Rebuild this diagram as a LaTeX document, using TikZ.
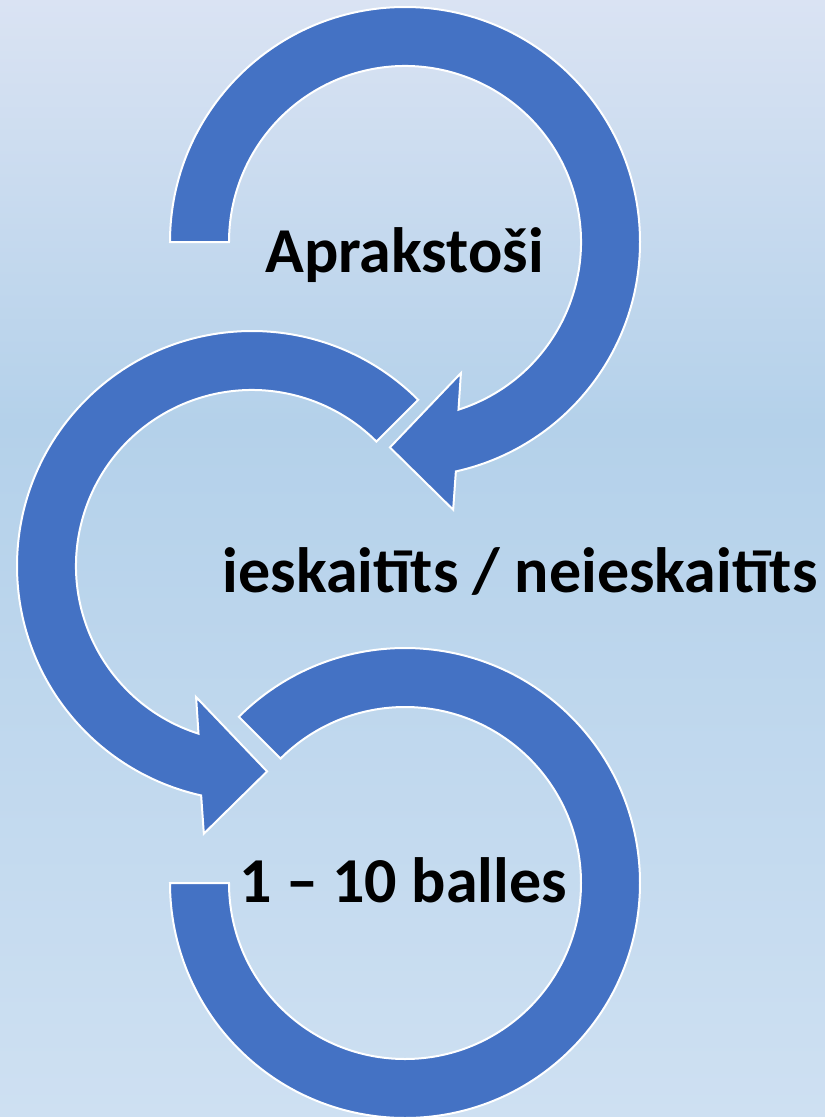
\documentclass[tikz,border=0pt]{standalone}
\usepackage{fontspec}
\setmainfont{Carlito}
\usetikzlibrary{positioning}
\definecolor{bgtop}{RGB}{218,227,243}
\definecolor{bgmid}{RGB}{180,209,234}
\definecolor{bgbot}{RGB}{206,224,242}
\definecolor{bandblue}{RGB}{68,114,196}
\pgfdeclareverticalshading{bgshade}{100bp}{color(0bp)=(bgbot); color(25bp)=(bgbot); color(56bp)=(bgmid); color(75bp)=(bgtop); color(100bp)=(bgtop)}
\newcommand{\rout}{235}
\newcommand{\rin}{176}

\begin{document}
\begin{tikzpicture}[x=1pt,y=1pt,
        arrowband/.style={fill=bandblue,draw=white,line width=2pt,line join=miter},
        lbl/.style={font=\fontsize{64}{70}\selectfont\bfseries,anchor=base,inner sep=0pt}]
            \shade[shading=bgshade] (0,0) rectangle (825,-1117);
            \useasboundingbox (0,0) rectangle (825,-1117);
            \coordinate (c1) at (405,-242);
            \coordinate (c2) at (252,-566);
            \coordinate (c3) at (405,-883);
            \path[arrowband] ([shift={(135:\rout)}]c3) arc[start angle=135,end angle=-180,radius=\rout]
                -- ([shift={(180:\rin)}]c3) arc[start angle=-180,end angle=135,radius=\rin] -- cycle;
            \path[arrowband] ([shift={(45:\rout)}]c2) arc[start angle=45,end angle=257.5,radius=\rout]
                -- ([shift={(259.8:272)}]c2) -- ([shift={(274.2:206)}]c2) -- ([shift={(246.9:142.5)}]c2)
                -- ([shift={(252.3:\rin)}]c2) arc[start angle=252.3,end angle=45,radius=\rin] -- cycle;
            \path[arrowband] ([shift={(180:\rout)}]c1) arc[start angle=180,end angle=-77.5,radius=\rout]
                -- ([shift={(-79.8:272)}]c1) -- ([shift={(-94.2:206)}]c1) -- ([shift={(-66.9:142.5)}]c1)
                -- ([shift={(-72.3:\rin)}]c1) arc[start angle=-72.3,end angle=180,radius=\rin] -- cycle;
            \node[lbl] (apr) at (404.5,-272) {Aprakstoši};
            \node[lbl] (ies) at (520,-592) {ieskaitīts / neieskaitīts};
            \node[lbl] (bal) at (403,-902) {1 – 10 balles};
        \end{tikzpicture}
\end{document}
